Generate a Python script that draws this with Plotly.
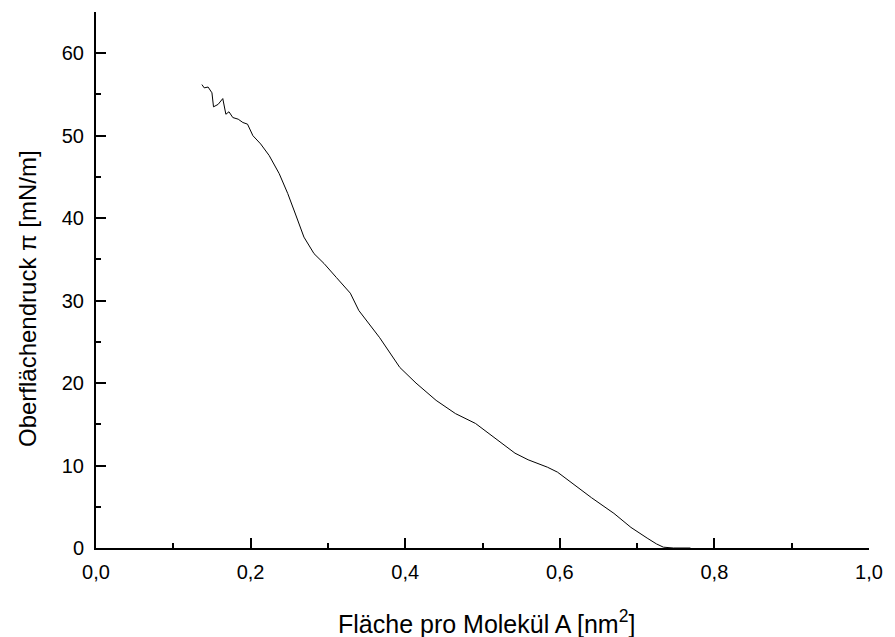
import plotly.graph_objects as go

area = [0.137, 0.140, 0.145, 0.150, 0.152, 0.158, 0.164, 0.168, 0.172, 0.177, 0.184, 0.190, 0.196,
        0.203, 0.213, 0.224, 0.237, 0.248, 0.258, 0.269, 0.282, 0.295, 0.311, 0.329, 0.340,
        0.350, 0.367, 0.393, 0.414, 0.440, 0.465, 0.491, 0.520, 0.542, 0.559, 0.584, 0.597,
        0.619, 0.641, 0.670, 0.692, 0.713, 0.725, 0.734, 0.747, 0.769]
pressure = [56.2, 55.8, 55.9, 55.2, 53.5, 53.8, 54.5, 52.6, 52.9, 52.2, 52.0, 51.6, 51.4,
            50.0, 49.0, 47.6, 45.4, 43.0, 40.5, 37.7, 35.7, 34.5, 32.8, 30.9, 28.8,
            27.6, 25.5, 21.9, 20.0, 17.9, 16.3, 15.1, 13.1, 11.5, 10.7, 9.8, 9.2,
            7.6, 6.1, 4.2, 2.5, 1.2, 0.5, 0.1, 0.0, 0.0]

x_ticks = [0.0, 0.2, 0.4, 0.6, 0.8, 1.0]
y_ticks = [0, 10, 20, 30, 40, 50, 60]
x_title = "Fläche pro Molekül A [nm<sup>2</sup>]"
y_title = "Oberflächendruck π [mN/m]"

fig = go.Figure()
fig.add_trace(go.Scatter(x=area, y=pressure, mode="lines",
                         line=dict(color="black", width=1), showlegend=False))

fig.update_layout(
    width=895, height=637,
    margin=dict(l=96, r=17, t=12, b=89),
    paper_bgcolor="white", plot_bgcolor="white",
    separators=",.",
    font=dict(family="Liberation Sans", size=20, color="black"),
    xaxis=dict(range=[0, 1.0], tickvals=x_ticks, tickformat=".1f",
               showgrid=False, zeroline=False, showline=True, linecolor="black", linewidth=2,
               ticks="inside", ticklen=10, tickwidth=2, tickcolor="black", ticklabelstandoff=5,
               tickfont=dict(family="Liberation Sans", size=20),
               minor=dict(ticks="inside", ticklen=5, tickwidth=2, tickcolor="black", dtick=0.1, showgrid=False)),
    yaxis=dict(range=[0, 65], tickvals=y_ticks,
               showgrid=False, zeroline=False, showline=True, linecolor="black", linewidth=2,
               ticks="inside", ticklen=10, tickwidth=2, tickcolor="black", ticklabelstandoff=6,
               tickfont=dict(family="Liberation Sans", size=20),
               minor=dict(ticks="inside", ticklen=5, tickwidth=2, tickcolor="black", dtick=5, showgrid=False)),
    annotations=[
        dict(text=x_title, xref="paper", yref="paper", x=0.505, y=-0.138,
             xanchor="center", yanchor="middle", showarrow=False,
             font=dict(family="Liberation Sans", size=25)),
        dict(text=y_title, xref="paper", yref="paper", x=-0.0895, y=0.466,
             xanchor="center", yanchor="middle", showarrow=False, textangle=-90,
             font=dict(family="Liberation Sans", size=24)),
    ],
)

fig.write_html("out.html")
